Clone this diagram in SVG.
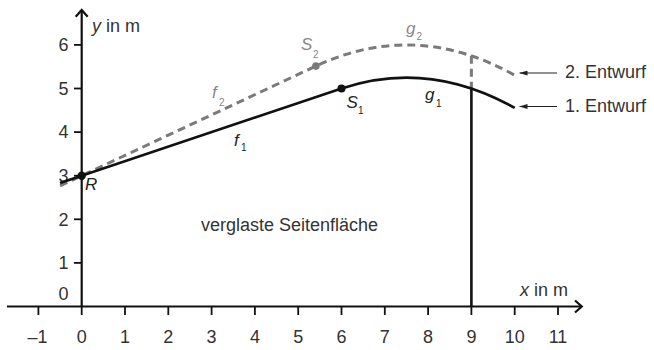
<svg xmlns="http://www.w3.org/2000/svg" width="654" height="350" viewBox="0 0 654 350">
  <style>
    .t { font-family: "Liberation Sans", Arial, sans-serif; font-size: 18px; fill: #333; }
    .m { font-family: "Liberation Sans", Arial, sans-serif; font-size: 17px; font-style: italic; fill: #222; }
    .mg { font-family: "Liberation Sans", Arial, sans-serif; font-size: 17px; font-style: italic; fill: #888; }
    .sub { font-family: "Liberation Sans", Arial, sans-serif; font-size: 10px; fill: #222; }
    .subg { font-family: "Liberation Sans", Arial, sans-serif; font-size: 10px; fill: #888; }
    .axis { stroke: #111; stroke-width: 2.2; fill: none; }
    .tick { stroke: #111; stroke-width: 1.8; }
    .solid { stroke: #111; stroke-width: 2.6; fill: none; stroke-linejoin: round; }
    .dash { stroke: #7a7a7a; stroke-width: 3; fill: none; stroke-dasharray: 8 5; }
    .ptr { stroke: #222; stroke-width: 1.1; fill: none; }
  </style>
  <defs>
    <marker id="ah" viewBox="0 0 10 6" refX="10" refY="3" markerWidth="8" markerHeight="5" markerUnits="userSpaceOnUse" orient="auto">
      <path d="M0,0 L10,3 L0,6 Z" fill="#222"/>
    </marker>
  </defs>
  <rect width="654" height="350" fill="#fff"/>

  <g id="axes">
    <line class="axis" x1="7" y1="306.5" x2="581.5" y2="306.5"/>
    <polyline class="axis" points="575,300.5 581.8,306.5 575,312.5"/>
    <line class="axis" x1="81.7" y1="306.5" x2="81.7" y2="10.5"/>
    <polyline class="axis" points="75.7,16.8 81.7,10 87.7,16.8"/>
  </g>

  <g id="ticks">
    <line class="tick" x1="38.4" y1="306.5" x2="38.4" y2="315"/>
    <line class="tick" x1="81.7" y1="306.5" x2="81.7" y2="315"/>
    <line class="tick" x1="125" y1="306.5" x2="125" y2="315"/>
    <line class="tick" x1="168.3" y1="306.5" x2="168.3" y2="315"/>
    <line class="tick" x1="211.6" y1="306.5" x2="211.6" y2="315"/>
    <line class="tick" x1="254.9" y1="306.5" x2="254.9" y2="315"/>
    <line class="tick" x1="298.2" y1="306.5" x2="298.2" y2="315"/>
    <line class="tick" x1="341.5" y1="306.5" x2="341.5" y2="315"/>
    <line class="tick" x1="384.8" y1="306.5" x2="384.8" y2="315"/>
    <line class="tick" x1="428.1" y1="306.5" x2="428.1" y2="315"/>
    <line class="tick" x1="471.4" y1="306.5" x2="471.4" y2="315" stroke-width="1.2"/>
    <line class="tick" x1="514.7" y1="306.5" x2="514.7" y2="315"/>
    <line class="tick" x1="558" y1="306.5" x2="558" y2="315"/>
    <line class="tick" x1="74" y1="262.9" x2="81.7" y2="262.9"/>
    <line class="tick" x1="74" y1="219.3" x2="81.7" y2="219.3"/>
    <line class="tick" x1="74" y1="175.7" x2="81.7" y2="175.7"/>
    <line class="tick" x1="74" y1="132.1" x2="81.7" y2="132.1"/>
    <line class="tick" x1="74" y1="88.5" x2="81.7" y2="88.5"/>
    <line class="tick" x1="74" y1="44.9" x2="81.7" y2="44.9"/>
  </g>

  <g id="tick-labels">
    <g text-anchor="middle">
      <text class="t" x="37.5" y="343">–1</text>
      <text class="t" x="81.7" y="343">0</text>
      <text class="t" x="125" y="343">1</text>
      <text class="t" x="168.3" y="343">2</text>
      <text class="t" x="211.6" y="343">3</text>
      <text class="t" x="254.9" y="343">4</text>
      <text class="t" x="298.2" y="343">5</text>
      <text class="t" x="341.5" y="343">6</text>
      <text class="t" x="384.8" y="343">7</text>
      <text class="t" x="428.1" y="343">8</text>
      <text class="t" x="471.4" y="343">9</text>
      <text class="t" x="514.7" y="343">10</text>
      <text class="t" x="558" y="343">11</text>
    </g>
    <g text-anchor="end">
      <text class="t" x="68.5" y="300">0</text>
      <text class="t" x="68.5" y="269.2">1</text>
      <text class="t" x="68.5" y="225.6">2</text>
      <text class="t" x="68.5" y="182">3</text>
      <text class="t" x="68.5" y="138.4">4</text>
      <text class="t" x="68.5" y="94.8">5</text>
      <text class="t" x="68.5" y="51.2">6</text>
    </g>
    <text class="t" x="520" y="296"><tspan font-style="italic">x</tspan> in m</text>
    <text class="t" x="92" y="32"><tspan font-style="italic">y</tspan> in m</text>
  </g>

  <g id="connectors">
    <path id="entwurf2" class="dash" d="M60.05,185.8 L315.9,66.1 Q415.3,19.6 514.7,75.2"/>
    <line class="dash" x1="471.4" y1="55.8" x2="471.4" y2="88.5" stroke-dasharray="6 4"/>
    <path id="entwurf1" class="solid" d="M60.05,182.97 L341.5,88.5 Q428.1,59.4 514.7,107.9"/>
    <line class="solid" x1="471.4" y1="88.5" x2="471.4" y2="306.5" stroke-width="3"/>
    <line class="ptr" x1="557" y1="73" x2="519.5" y2="73" marker-end="url(#ah)"/>
    <line class="ptr" x1="557" y1="106.5" x2="519.5" y2="106.5" marker-end="url(#ah)"/>
  </g>

  <g id="point-R">
    <circle cx="81.7" cy="175.7" r="4.2" fill="#111"/>
    <text class="m" x="85" y="189.5">R</text>
  </g>
  <g id="point-S1">
    <circle cx="341.5" cy="88.5" r="4" fill="#111"/>
    <text class="m" x="346.5" y="107.5">S</text>
    <text class="sub" x="358" y="113.5">1</text>
  </g>
  <g id="point-S2">
    <circle cx="315.9" cy="66.1" r="3.8" fill="#7a7a7a"/>
    <text class="mg" x="301" y="50">S</text>
    <text class="subg" x="313" y="57.5">2</text>
  </g>

  <g id="labels">
    <text class="mg" x="212" y="98">f</text>
    <text class="subg" x="219" y="105.5">2</text>
    <text class="m" x="234" y="146">f</text>
    <text class="sub" x="241" y="150.5">1</text>
    <text class="mg" x="406" y="33.5">g</text>
    <text class="subg" x="416.5" y="39.5">2</text>
    <text class="m" x="425" y="100">g</text>
    <text class="sub" x="436" y="106.5">1</text>
    <text class="t" x="201" y="230.7">verglaste Seitenfläche</text>
  </g>

  <g id="legend-2">
    <text class="t" x="565" y="78">2. Entwurf</text>
  </g>
  <g id="legend-1">
    <text class="t" x="565" y="111.5">1. Entwurf</text>
  </g>
</svg>
